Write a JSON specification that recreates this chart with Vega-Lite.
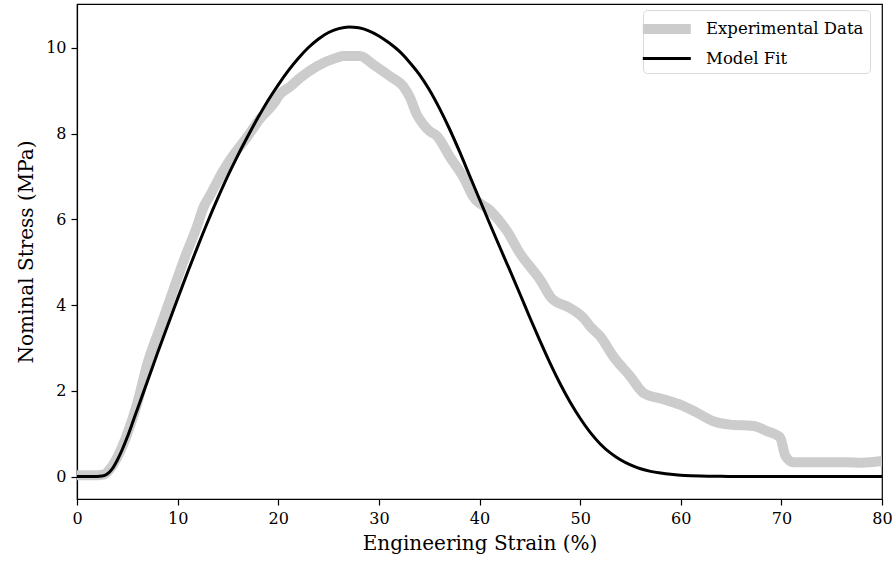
{
  "$schema": "https://vega.github.io/schema/vega-lite/v6.json",
  "width": 805,
  "height": 495,
  "autosize": {"type": "none"},
  "padding": {"left": 77, "top": 4, "right": 12, "bottom": 68},
  "background": "white",
  "config": {
    "font": "DejaVu Serif",
    "view": {"stroke": "black", "strokeWidth": 1.2},
    "axis": {
      "grid": false,
      "domainColor": "black",
      "domainWidth": 1.2,
      "tickColor": "black",
      "tickWidth": 1.2,
      "tickSize": 6,
      "labelColor": "black",
      "labelFont": "DejaVu Serif",
      "labelFontSize": 16,
      "titleFont": "DejaVu Serif",
      "titleFontSize": 20,
      "titleFontWeight": "normal",
      "titleColor": "black"
    }
  },
  "data": {
    "values": [
      {"strain": 0, "stress": 0.03, "series": "Experimental Data"},
      {"strain": 1, "stress": 0.03, "series": "Experimental Data"},
      {"strain": 2, "stress": 0.03, "series": "Experimental Data"},
      {"strain": 2.7, "stress": 0.05, "series": "Experimental Data"},
      {"strain": 3.3, "stress": 0.18, "series": "Experimental Data"},
      {"strain": 4, "stress": 0.45, "series": "Experimental Data"},
      {"strain": 5, "stress": 1.0, "series": "Experimental Data"},
      {"strain": 6, "stress": 1.72, "series": "Experimental Data"},
      {"strain": 7.02, "stress": 2.65, "series": "Experimental Data"},
      {"strain": 8.3, "stress": 3.5, "series": "Experimental Data"},
      {"strain": 9.57, "stress": 4.35, "series": "Experimental Data"},
      {"strain": 10.7, "stress": 5.1, "series": "Experimental Data"},
      {"strain": 11.9, "stress": 5.82, "series": "Experimental Data"},
      {"strain": 12.6, "stress": 6.3, "series": "Experimental Data"},
      {"strain": 13.2, "stress": 6.55, "series": "Experimental Data"},
      {"strain": 14.54, "stress": 7.14, "series": "Experimental Data"},
      {"strain": 15.7, "stress": 7.55, "series": "Experimental Data"},
      {"strain": 16.87, "stress": 7.91, "series": "Experimental Data"},
      {"strain": 18.2, "stress": 8.35, "series": "Experimental Data"},
      {"strain": 19.51, "stress": 8.69, "series": "Experimental Data"},
      {"strain": 20.18, "stress": 8.92, "series": "Experimental Data"},
      {"strain": 21.2, "stress": 9.1, "series": "Experimental Data"},
      {"strain": 22.17, "stress": 9.3, "series": "Experimental Data"},
      {"strain": 23.83, "stress": 9.57, "series": "Experimental Data"},
      {"strain": 25.8, "stress": 9.77, "series": "Experimental Data"},
      {"strain": 26.5, "stress": 9.81, "series": "Experimental Data"},
      {"strain": 28.1, "stress": 9.81, "series": "Experimental Data"},
      {"strain": 29.45, "stress": 9.61, "series": "Experimental Data"},
      {"strain": 31.1, "stress": 9.34, "series": "Experimental Data"},
      {"strain": 32.4, "stress": 9.11, "series": "Experimental Data"},
      {"strain": 33.1, "stress": 8.84, "series": "Experimental Data"},
      {"strain": 33.76, "stress": 8.45, "series": "Experimental Data"},
      {"strain": 34.4, "stress": 8.22, "series": "Experimental Data"},
      {"strain": 35.09, "stress": 8.05, "series": "Experimental Data"},
      {"strain": 35.75, "stress": 7.95, "series": "Experimental Data"},
      {"strain": 37.08, "stress": 7.45, "series": "Experimental Data"},
      {"strain": 38.4, "stress": 6.98, "series": "Experimental Data"},
      {"strain": 39.4, "stress": 6.52, "series": "Experimental Data"},
      {"strain": 41.05, "stress": 6.21, "series": "Experimental Data"},
      {"strain": 42.7, "stress": 5.74, "series": "Experimental Data"},
      {"strain": 44.04, "stress": 5.2, "series": "Experimental Data"},
      {"strain": 46.0, "stress": 4.6, "series": "Experimental Data"},
      {"strain": 47.2, "stress": 4.15, "series": "Experimental Data"},
      {"strain": 49.0, "stress": 3.93, "series": "Experimental Data"},
      {"strain": 50.4, "stress": 3.68, "series": "Experimental Data"},
      {"strain": 51.0, "stress": 3.5, "series": "Experimental Data"},
      {"strain": 52.0, "stress": 3.27, "series": "Experimental Data"},
      {"strain": 53.3, "stress": 2.8, "series": "Experimental Data"},
      {"strain": 54.97, "stress": 2.34, "series": "Experimental Data"},
      {"strain": 56.3, "stress": 1.95, "series": "Experimental Data"},
      {"strain": 58.28, "stress": 1.8, "series": "Experimental Data"},
      {"strain": 60.0, "stress": 1.67, "series": "Experimental Data"},
      {"strain": 61.6, "stress": 1.49, "series": "Experimental Data"},
      {"strain": 63.25, "stress": 1.29, "series": "Experimental Data"},
      {"strain": 64.9, "stress": 1.21, "series": "Experimental Data"},
      {"strain": 67.23, "stress": 1.18, "series": "Experimental Data"},
      {"strain": 68.56, "stress": 1.06, "series": "Experimental Data"},
      {"strain": 69.88, "stress": 0.91, "series": "Experimental Data"},
      {"strain": 70.4, "stress": 0.48, "series": "Experimental Data"},
      {"strain": 71.2, "stress": 0.33, "series": "Experimental Data"},
      {"strain": 73.2, "stress": 0.33, "series": "Experimental Data"},
      {"strain": 76.5, "stress": 0.33, "series": "Experimental Data"},
      {"strain": 78.0, "stress": 0.32, "series": "Experimental Data"},
      {"strain": 80.0, "stress": 0.36, "series": "Experimental Data"},
      {"strain": 0, "stress": 0, "series": "Model Fit"},
      {"strain": 1, "stress": 0, "series": "Model Fit"},
      {"strain": 2, "stress": 0, "series": "Model Fit"},
      {"strain": 2.5, "stress": 0.01, "series": "Model Fit"},
      {"strain": 3.0, "stress": 0.06, "series": "Model Fit"},
      {"strain": 3.5, "stress": 0.18, "series": "Model Fit"},
      {"strain": 4.0, "stress": 0.38, "series": "Model Fit"},
      {"strain": 4.5, "stress": 0.63, "series": "Model Fit"},
      {"strain": 5.0, "stress": 0.92, "series": "Model Fit"},
      {"strain": 5.5, "stress": 1.24, "series": "Model Fit"},
      {"strain": 6.0, "stress": 1.57, "series": "Model Fit"},
      {"strain": 7.0, "stress": 2.22, "series": "Model Fit"},
      {"strain": 8.0, "stress": 2.88, "series": "Model Fit"},
      {"strain": 9.0, "stress": 3.52, "series": "Model Fit"},
      {"strain": 10.0, "stress": 4.15, "series": "Model Fit"},
      {"strain": 11.0, "stress": 4.77, "series": "Model Fit"},
      {"strain": 12.0, "stress": 5.37, "series": "Model Fit"},
      {"strain": 13.0, "stress": 5.95, "series": "Model Fit"},
      {"strain": 14.0, "stress": 6.5, "series": "Model Fit"},
      {"strain": 15.0, "stress": 7.02, "series": "Model Fit"},
      {"strain": 16.0, "stress": 7.5, "series": "Model Fit"},
      {"strain": 17.0, "stress": 7.95, "series": "Model Fit"},
      {"strain": 18.0, "stress": 8.38, "series": "Model Fit"},
      {"strain": 19.0, "stress": 8.78, "series": "Model Fit"},
      {"strain": 20.0, "stress": 9.14, "series": "Model Fit"},
      {"strain": 21.0, "stress": 9.47, "series": "Model Fit"},
      {"strain": 22.0, "stress": 9.76, "series": "Model Fit"},
      {"strain": 23.0, "stress": 10.01, "series": "Model Fit"},
      {"strain": 24.0, "stress": 10.21, "series": "Model Fit"},
      {"strain": 25.0, "stress": 10.36, "series": "Model Fit"},
      {"strain": 26.0, "stress": 10.45, "series": "Model Fit"},
      {"strain": 27.0, "stress": 10.49, "series": "Model Fit"},
      {"strain": 28.0, "stress": 10.47, "series": "Model Fit"},
      {"strain": 29.0, "stress": 10.4, "series": "Model Fit"},
      {"strain": 30.0, "stress": 10.28, "series": "Model Fit"},
      {"strain": 31.0, "stress": 10.12, "series": "Model Fit"},
      {"strain": 32.0, "stress": 9.93, "series": "Model Fit"},
      {"strain": 33.0, "stress": 9.68, "series": "Model Fit"},
      {"strain": 34.0, "stress": 9.39, "series": "Model Fit"},
      {"strain": 35.0, "stress": 9.03, "series": "Model Fit"},
      {"strain": 36.0, "stress": 8.6, "series": "Model Fit"},
      {"strain": 37.0, "stress": 8.12, "series": "Model Fit"},
      {"strain": 38.0, "stress": 7.59, "series": "Model Fit"},
      {"strain": 39.0, "stress": 7.03, "series": "Model Fit"},
      {"strain": 40.0, "stress": 6.47, "series": "Model Fit"},
      {"strain": 41.0, "stress": 5.91, "series": "Model Fit"},
      {"strain": 42.0, "stress": 5.36, "series": "Model Fit"},
      {"strain": 43.0, "stress": 4.82, "series": "Model Fit"},
      {"strain": 44.0, "stress": 4.27, "series": "Model Fit"},
      {"strain": 45.0, "stress": 3.71, "series": "Model Fit"},
      {"strain": 46.0, "stress": 3.17, "series": "Model Fit"},
      {"strain": 47.0, "stress": 2.65, "series": "Model Fit"},
      {"strain": 48.0, "stress": 2.17, "series": "Model Fit"},
      {"strain": 49.0, "stress": 1.74, "series": "Model Fit"},
      {"strain": 50.0, "stress": 1.36, "series": "Model Fit"},
      {"strain": 51.0, "stress": 1.03, "series": "Model Fit"},
      {"strain": 52.0, "stress": 0.76, "series": "Model Fit"},
      {"strain": 53.0, "stress": 0.55, "series": "Model Fit"},
      {"strain": 54.0, "stress": 0.39, "series": "Model Fit"},
      {"strain": 55.0, "stress": 0.27, "series": "Model Fit"},
      {"strain": 56.0, "stress": 0.18, "series": "Model Fit"},
      {"strain": 57.0, "stress": 0.12, "series": "Model Fit"},
      {"strain": 58.0, "stress": 0.08, "series": "Model Fit"},
      {"strain": 59.0, "stress": 0.05, "series": "Model Fit"},
      {"strain": 60.0, "stress": 0.03, "series": "Model Fit"},
      {"strain": 61.0, "stress": 0.018, "series": "Model Fit"},
      {"strain": 62.0, "stress": 0.01, "series": "Model Fit"},
      {"strain": 64.0, "stress": 0.003, "series": "Model Fit"},
      {"strain": 66.0, "stress": 0, "series": "Model Fit"},
      {"strain": 70, "stress": 0, "series": "Model Fit"},
      {"strain": 80, "stress": 0, "series": "Model Fit"}
    ]
  },
  "mark": {"type": "line", "interpolate": "monotone", "strokeJoin": "round", "clip": true},
  "encoding": {
    "x": {
      "field": "strain",
      "type": "quantitative",
      "title": "Engineering Strain (%)",
      "scale": {"domain": [0, 80], "nice": false, "zero": false},
      "axis": {"values": [0, 10, 20, 30, 40, 50, 60, 70, 80], "labelPadding": 5, "titlePadding": 7, "labelFlush": false}
    },
    "y": {
      "field": "stress",
      "type": "quantitative",
      "title": "Nominal Stress (MPa)",
      "scale": {"domain": [-0.525, 11.025], "nice": false, "zero": false},
      "axis": {"values": [0, 2, 4, 6, 8, 10], "labelPadding": 5, "titlePadding": 9, "labelFlush": false}
    },
    "color": {
      "field": "series",
      "type": "nominal",
      "title": null,
      "scale": {"domain": ["Experimental Data", "Model Fit"], "range": ["#cccccc", "#000000"]},
      "legend": {
        "orient": "none",
        "legendX": 566,
        "legendY": 6,
        "title": null,
        "symbolType": "M-2.4,0H3.6",
        "symbolSize": 256,
        "labelFontSize": 16.5,
        "labelFont": "DejaVu Serif",
        "labelColor": "black",
        "labelLimit": 400,
        "labelOffset": 31,
        "padding": 6,
        "rowPadding": 0,
        "strokeColor": "#d9d9d9",
        "fillColor": "white",
        "cornerRadius": 4
      }
    },
    "strokeWidth": {
      "field": "series",
      "type": "nominal",
      "scale": {"domain": ["Experimental Data", "Model Fit"], "range": [10, 3]},
      "legend": null
    }
  }
}
